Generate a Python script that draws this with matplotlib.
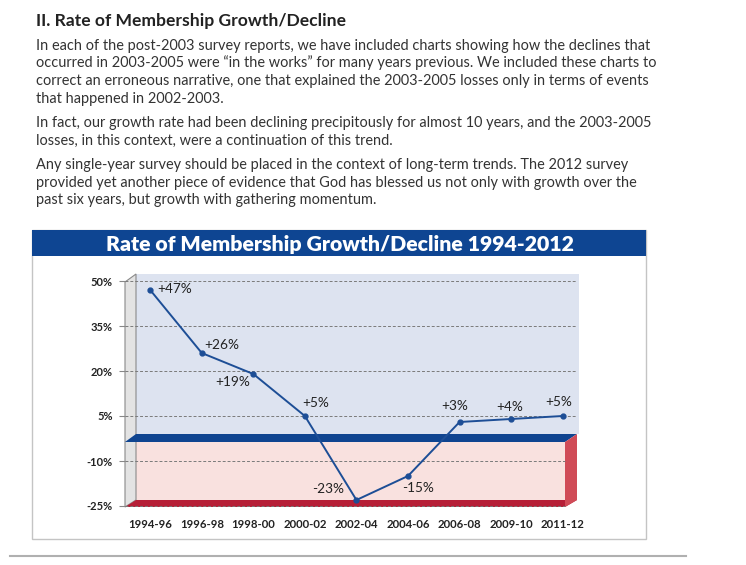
import matplotlib
matplotlib.use("Agg")
import matplotlib.pyplot as plt
from matplotlib.patches import Rectangle, Polygon

plt.rcParams['font.family'] = ['Lato', 'DejaVu Sans']

# data
periods = ["1994-96", "1996-98", "1998-00", "2000-02", "2002-04",
           "2004-06", "2006-08", "2009-10", "2011-12"]
growth = [47, 26, 19, 5, -23, -15, 3, 4, 5]
yticks = [50, 35, 20, 5, -10, -25]

heading = "II. Rate of Membership Growth/Decline"
body_lines = [
    "In each of the post-2003 survey reports, we have included charts showing how the declines that",
    "occurred in 2003-2005 were \u201cin the works\u201d for many years previous. We included these charts to",
    "correct an erroneous narrative, one that explained the 2003-2005 losses only in terms of events",
    "that happened in 2002-2003.",
    "In fact, our growth rate had been declining precipitously for almost 10 years, and the 2003-2005",
    "losses, in this context, were a continuation of this trend.",
    "Any single-year survey should be placed in the context of long-term trends. The 2012 survey",
    "provided yet another piece of evidence that God has blessed us not only with growth over the",
    "past six years, but growth with gathering momentum.",
]
chart_title = "Rate of Membership Growth/Decline 1994-2012"

# layout (pixels)
W, H = 746, 565
body_baselines = [50, 67.5, 85, 102.5, 127, 144.5, 169, 186.5, 204]
label_offsets = [(7, 1, 'left'), (3, 8, 'left'), (-3, -8, 'right'), (-3, 13, 'left'),
                 (-12, 11, 'right'), (-6, -12, 'left'), (-5, 16, 'center'),
                 (-1, 12, 'center'), (-4, 14, 'center')]

fig = plt.figure(figsize=(W / 100, H / 100), dpi=100)

bg = fig.add_axes([0, 0, 1, 1])
bg.set_xlim(0, W)
bg.set_ylim(H, 0)
bg.axis('off')

bg.text(36, 26, heading, fontsize=12.6, fontweight='bold', color='#222222')
for line, yb in zip(body_lines, body_baselines):
    bg.text(36, yb, line, fontsize=10.45, color='#333333')

# chart frame and title bar
bg.add_patch(Rectangle((32, 230), 614, 309, fill=False, ec='#c4c4c4', lw=1))
bg.add_patch(Rectangle((32, 230), 614, 26, fc='#0e4592', ec='none'))
bg.text(340, 251, chart_title, fontsize=15.3, fontweight='heavy', color='white', ha='center')
bg.plot([10, 686], [556, 556], color='#b0b0b0', lw=1.5)

# pseudo-3D walls
bg.add_patch(Rectangle((136, 274), 443, 160, fc='#dde3f0', ec='none'))
bg.add_patch(Rectangle((136, 442), 429, 58, fc='#f9e1df', ec='none'))
bg.add_patch(Polygon([(125, 282), (136, 274), (136, 500), (125, 507)],
                     closed=True, fc='#e3e3e3', ec='#8a8a8a', lw=0.8))
bg.add_patch(Polygon([(125, 442), (136, 434), (577, 434), (565, 442)],
                     closed=True, fc='#0f4490', ec='none'))
bg.add_patch(Polygon([(125, 507), (136, 500), (577, 500), (565, 507)],
                     closed=True, fc='#b61f37', ec='none'))
bg.add_patch(Polygon([(565, 442), (577, 434), (577, 500), (565, 507)],
                     closed=True, fc='#d04b57', ec='none'))

# chart axes, placed over the walls
x0, dx = 150.2, 51.56
y50, dy = 281, 3.0
px_l, px_r, px_t, px_b = 125, 580, 270, 508
ax = fig.add_axes([px_l / W, 1 - px_b / H, (px_r - px_l) / W, (px_b - px_t) / H])
ax.patch.set_alpha(0)
ax.set_xlim((px_l - x0) / dx, (px_r - x0) / dx)
ax.set_ylim(50 - (px_b - y50) / dy, 50 - (px_t - y50) / dy)
for s in ax.spines.values():
    s.set_visible(False)

xs = list(range(len(periods)))
ax.set_xticks(xs)
ax.set_xticklabels(periods, fontsize=8.2, fontweight='bold', color='#222222')
ax.tick_params(axis='x', length=0, pad=8)
ax.set_yticks(yticks)
ax.set_yticklabels([f"{v}%" for v in yticks], fontsize=8, fontweight='bold', color='#222222')
ax.tick_params(axis='y', length=4, color='#888888', width=0.8, pad=5)

xmin = (px_l - x0) / dx
for v in yticks:
    xend = (576 - x0) / dx if v > 0 else (565 - x0) / dx
    ax.hlines(v, xmin, xend, colors='#7a7a7a', lw=0.7, linestyles=(0, (3, 2)))

ax.plot(xs, growth, color='#1d4e96', lw=1.4, marker='o', ms=3.5, zorder=5)
for x, v, (ox, oy, ha) in zip(xs, growth, label_offsets):
    ax.annotate(f"{v:+d}%", (x, v), xytext=(ox * 0.72, oy * 0.72), textcoords='offset points',
                ha=ha, va='center', fontsize=9.8, color='#222222', zorder=6)

fig.savefig("out.png", dpi=100)
